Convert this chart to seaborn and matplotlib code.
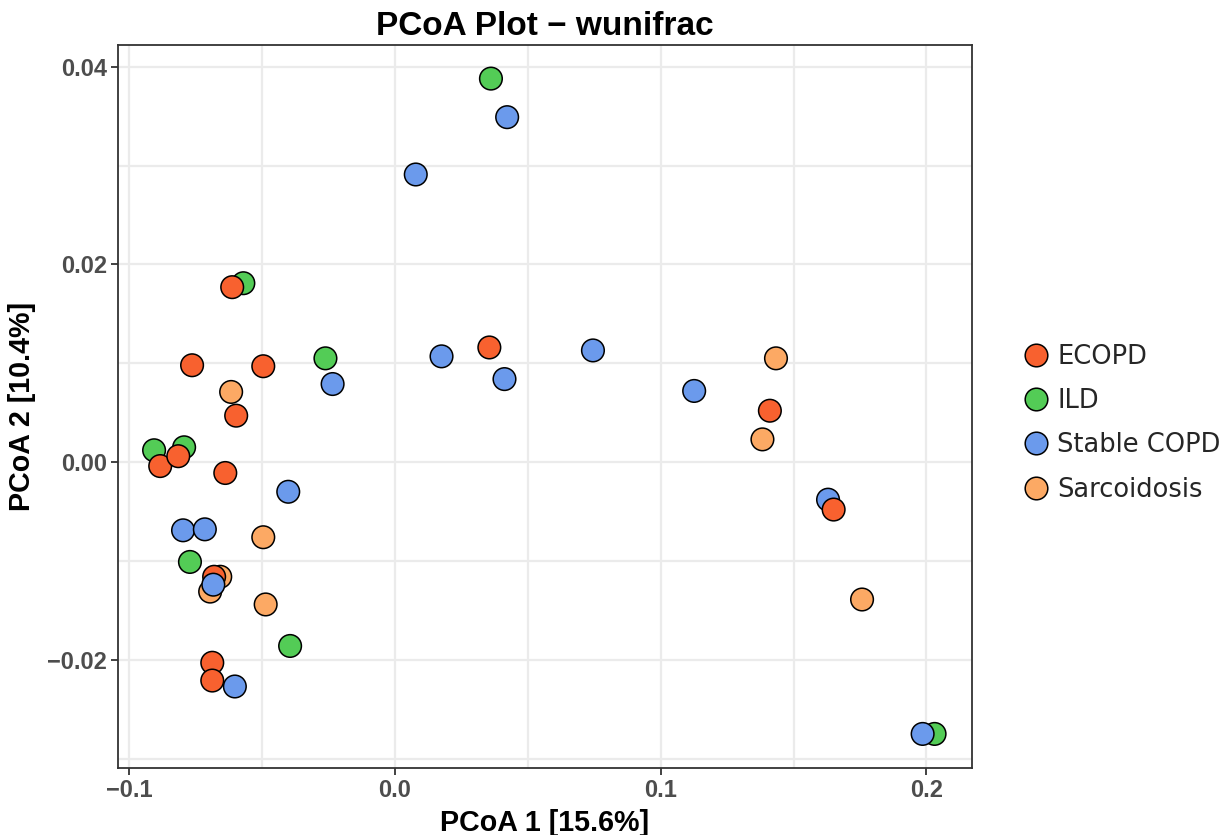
import numpy as np
import pandas as pd
import seaborn as sns
import matplotlib.pyplot as plt

# PCoA coordinates, one pair of lists per group
ecopd_x = [-0.0613, -0.0764, -0.0496, -0.0598, -0.0884, -0.0816, -0.0639,
           0.0355, 0.1411, 0.1651, -0.0688, -0.0688, -0.0681]
ecopd_y = [0.0177, 0.0098, 0.0097, 0.0047, -0.0004, 0.0006, -0.0011,
           0.0116, 0.0052, -0.0048, -0.0203, -0.0221, -0.0116]

ild_x = [0.0361, -0.0571, -0.0262, -0.0907, -0.0794, -0.0772, -0.0395, 0.2031]
ild_y = [0.0388, 0.0181, 0.0105, 0.0012, 0.0015, -0.0101, -0.0186, -0.0275]

copd_x = [0.0422, 0.0078, 0.0175, 0.0412, 0.0745, 0.1126, -0.0235, -0.0402,
          -0.0798, -0.0716, -0.0603, 0.1630, 0.1986, -0.0684]
copd_y = [0.0349, 0.0291, 0.0107, 0.0084, 0.0113, 0.0072, 0.0079, -0.0030,
          -0.0069, -0.0068, -0.0227, -0.0038, -0.0275, -0.0124]

sarc_x = [-0.0617, -0.0496, -0.0487, -0.0658, -0.0696, 0.1434, 0.1383, 0.1758]
sarc_y = [0.0071, -0.0076, -0.0144, -0.0116, -0.0131, 0.0105, 0.0023, -0.0139]

groups = ["ECOPD", "ILD", "Stable COPD", "Sarcoidosis"]
colors = ["#F8612F", "#53CC56", "#6B9AEC", "#FCA964"]

x_ticks = [-0.1, 0.0, 0.1, 0.2]
x_labels = ["\u22120.1", "0.0", "0.1", "0.2"]
y_ticks = [-0.02, 0.00, 0.02, 0.04]
y_labels = ["\u22120.02", "0.00", "0.02", "0.04"]

df = pd.concat([
    pd.DataFrame({"x": ild_x, "y": ild_y, "group": "ILD"}),
    pd.DataFrame({"x": sarc_x, "y": sarc_y, "group": "Sarcoidosis"}),
    pd.DataFrame({"x": copd_x[:-1], "y": copd_y[:-1], "group": "Stable COPD"}),
    pd.DataFrame({"x": ecopd_x, "y": ecopd_y, "group": "ECOPD"}),
    # last COPD point sits on top of the left cluster
    pd.DataFrame({"x": copd_x[-1:], "y": copd_y[-1:], "group": "Stable COPD"}),
], ignore_index=True)

sns.set_theme(style="whitegrid")
plt.rcParams["font.family"] = ["Liberation Sans", "DejaVu Sans"]

fig = plt.figure(figsize=(12.25, 8.35), dpi=100)
ax = fig.add_axes([0.0963, 0.0808, 0.6972, 0.8653])

sns.scatterplot(
    data=df, x="x", y="y", hue="group", hue_order=groups,
    palette=colors, s=265, edgecolor="black", linewidth=1.1,
    alpha=1, ax=ax, zorder=3
)

ax.set_xticks(x_ticks, x_labels)
ax.set_yticks(y_ticks, y_labels)
ax.set_xticks([-0.05, 0.05, 0.15], minor=True)
ax.set_yticks([-0.03, -0.01, 0.01, 0.03], minor=True)
ax.set_xlim(-0.1043, 0.2172)
ax.set_ylim(-0.0309, 0.0422)

ax.set_facecolor("white")
ax.grid(which="major", color="#EBEBEB", linewidth=1.6)
ax.grid(which="minor", color="#EBEBEB", linewidth=1.6)
ax.set_axisbelow(True)
for sp in ax.spines.values():
    sp.set_color("#333333")
    sp.set_linewidth(1.3)

ax.tick_params(axis="both", which="major", length=5, width=1.3, color="#333333",
               labelsize=17, labelcolor="#4D4D4D", pad=3, bottom=True, left=True)
ax.tick_params(axis="both", which="minor", length=0)
for lab in ax.get_xticklabels() + ax.get_yticklabels():
    lab.set_fontweight("bold")

ax.set_xlabel("PCoA 1 [15.6%]", fontsize=20.6, fontweight="bold", color="black", labelpad=5)
ax.set_ylabel("PCoA 2 [10.4%]", fontsize=20.6, fontweight="bold", color="black", labelpad=8)
ax.set_title("PCoA Plot \u2212 wunifrac", fontsize=24, fontweight="bold", color="black", pad=7)

leg = ax.legend(
    loc="center left", bbox_to_anchor=(1.06, 0.4765), frameon=False,
    prop={"family": "DejaVu Sans", "size": 18.5}, handlelength=1.0,
    handletextpad=0.32, labelspacing=0.71, markerscale=1.0, borderaxespad=0,
    borderpad=0
)
for h in leg.legend_handles:
    h.set_markeredgecolor("black")
    h.set_markeredgewidth(1.1)

fig.savefig("out.png", dpi=100)
